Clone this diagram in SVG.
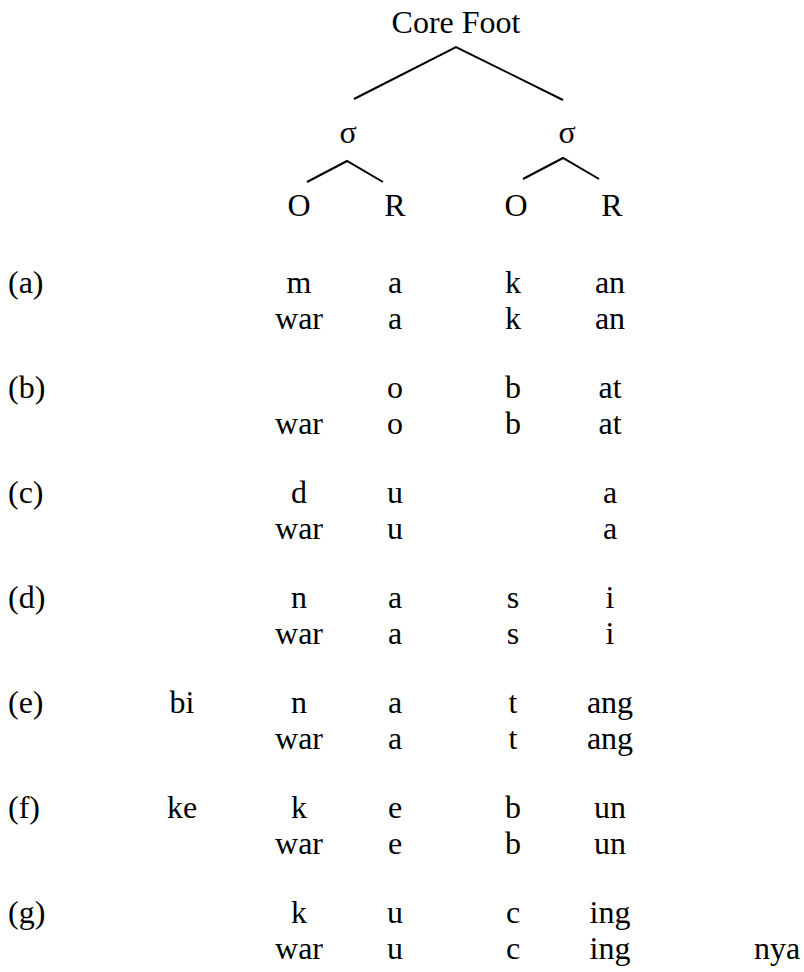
<svg xmlns="http://www.w3.org/2000/svg" width="804" height="972" viewBox="0 0 804 972" style="font-family: 'Liberation Serif', 'Times New Roman', serif">
  <style>
    text { font-size: 32px; fill: #000; }
    .c { text-anchor: middle; }
    .edge { stroke: #000; stroke-width: 2; fill: none; stroke-linecap: butt; }
  </style>

  <!-- prosodic tree: foot, two syllables, onset/rime constituents -->
  <g id="core-foot"><text class="c" x="456" y="33">Core Foot</text></g>
  <g id="sigma-1"><text class="c" x="348" y="143">σ</text></g>
  <g id="sigma-2"><text class="c" x="567" y="143">σ</text></g>
  <g id="onset-1"><text class="c" x="299" y="216">O</text></g>
  <g id="rime-1"><text class="c" x="395" y="216">R</text></g>
  <g id="onset-2"><text class="c" x="516" y="216">O</text></g>
  <g id="rime-2"><text class="c" x="612" y="216">R</text></g>

  <g id="connectors">
    <polyline class="edge" points="354,99 456,47 563,100"/>
    <polyline class="edge" points="307,182 347,161 383,182"/>
    <polyline class="edge" points="523,179 563,158 599,179"/>
  </g>

  <!-- example rows: label, prefix, O, R, O, R, suffix -->
  <g id="ex-a">
    <text x="8" y="293">(a)</text>
    <text class="c" x="299" y="293">m</text>
    <text class="c" x="395" y="293">a</text>
    <text class="c" x="513" y="293">k</text>
    <text class="c" x="610" y="293">an</text>
    <text class="c" x="299" y="329">war</text>
    <text class="c" x="395" y="329">a</text>
    <text class="c" x="513" y="329">k</text>
    <text class="c" x="610" y="329">an</text>
  </g>

  <g id="ex-b">
    <text x="8" y="398">(b)</text>
    <text class="c" x="395" y="398">o</text>
    <text class="c" x="513" y="398">b</text>
    <text class="c" x="610" y="398">at</text>
    <text class="c" x="299" y="434">war</text>
    <text class="c" x="395" y="434">o</text>
    <text class="c" x="513" y="434">b</text>
    <text class="c" x="610" y="434">at</text>
  </g>

  <g id="ex-c">
    <text x="8" y="503">(c)</text>
    <text class="c" x="299" y="503">d</text>
    <text class="c" x="395" y="503">u</text>
    <text class="c" x="610" y="503">a</text>
    <text class="c" x="299" y="539">war</text>
    <text class="c" x="395" y="539">u</text>
    <text class="c" x="610" y="539">a</text>
  </g>

  <g id="ex-d">
    <text x="8" y="608">(d)</text>
    <text class="c" x="299" y="608">n</text>
    <text class="c" x="395" y="608">a</text>
    <text class="c" x="513" y="608">s</text>
    <text class="c" x="610" y="608">i</text>
    <text class="c" x="299" y="644">war</text>
    <text class="c" x="395" y="644">a</text>
    <text class="c" x="513" y="644">s</text>
    <text class="c" x="610" y="644">i</text>
  </g>

  <g id="ex-e">
    <text x="8" y="713">(e)</text>
    <text class="c" x="182" y="713">bi</text>
    <text class="c" x="299" y="713">n</text>
    <text class="c" x="395" y="713">a</text>
    <text class="c" x="513" y="713">t</text>
    <text class="c" x="610" y="713">ang</text>
    <text class="c" x="299" y="749">war</text>
    <text class="c" x="395" y="749">a</text>
    <text class="c" x="513" y="749">t</text>
    <text class="c" x="610" y="749">ang</text>
  </g>

  <g id="ex-f">
    <text x="8" y="818">(f)</text>
    <text class="c" x="182" y="818">ke</text>
    <text class="c" x="299" y="818">k</text>
    <text class="c" x="395" y="818">e</text>
    <text class="c" x="513" y="818">b</text>
    <text class="c" x="610" y="818">un</text>
    <text class="c" x="299" y="854">war</text>
    <text class="c" x="395" y="854">e</text>
    <text class="c" x="513" y="854">b</text>
    <text class="c" x="610" y="854">un</text>
  </g>

  <g id="ex-g">
    <text x="8" y="923">(g)</text>
    <text class="c" x="299" y="923">k</text>
    <text class="c" x="395" y="923">u</text>
    <text class="c" x="513" y="923">c</text>
    <text class="c" x="610" y="923">ing</text>
    <text class="c" x="299" y="959">war</text>
    <text class="c" x="395" y="959">u</text>
    <text class="c" x="513" y="959">c</text>
    <text class="c" x="610" y="959">ing</text>
    <text class="c" x="777" y="959">nya</text>
  </g>
</svg>
